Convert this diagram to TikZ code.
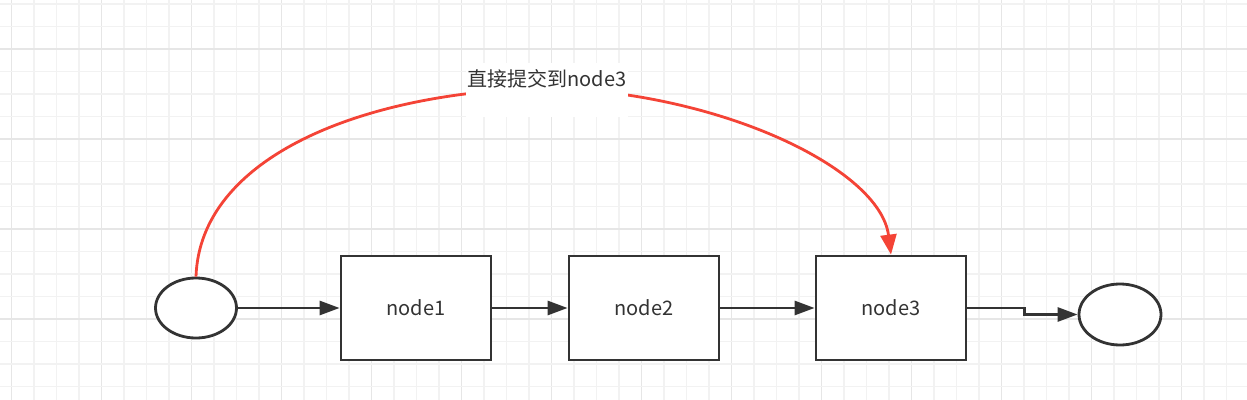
\documentclass[tikz,border=0pt]{standalone}
\usepackage{fontspec}
\setmainfont{Noto Sans CJK SC}
\usetikzlibrary{arrows.meta,shapes.geometric,calc}
\definecolor{ink}{HTML}{333333}
\definecolor{redline}{HTML}{F44336}
\definecolor{gridminor}{HTML}{F2F2F2}
\definecolor{gridmajor}{HTML}{E6E6E6}
\tikzset{
  box/.style={draw=ink, line width=2.1pt, fill=white, minimum width=112.5pt, minimum height=78pt, inner sep=0pt, font=\fontsize{15}{18}\selectfont, text=ink},
  oval/.style={ellipse, draw=ink, line width=2.1pt, fill=white, inner sep=0pt},
  flow/.style={draw=ink, line width=2.1pt, -{Triangle[length=15pt,width=10.5pt]}},
  redflow/.style={draw=redline, line width=2.1pt, -{Triangle[length=15pt,width=12pt]}},
  lbltext/.style={font=\fontsize{15}{18}\selectfont, text=ink, inner sep=0pt},
}
\begin{document}
\begin{tikzpicture}[x=0.75pt,y=-0.75pt]
\useasboundingbox (0,0) rectangle (1247,400);
\fill[white] (0,0) rectangle (1247,400);
% grid
\foreach \i in {0,...,56}{
  \pgfmathsetmacro{\gx}{-10.8+22.5*\i}
  \pgfmathtruncatemacro{\m}{mod(\i,4)}
  \ifnum\m=1
    \draw[gridmajor, line width=1.1pt] (\gx,0) -- (\gx,400);
  \else
    \draw[gridminor, line width=1.1pt] (\gx,0) -- (\gx,400);
  \fi
}
\foreach \j in {0,...,18}{
  \pgfmathsetmacro{\gy}{4+22.5*\j}
  \pgfmathtruncatemacro{\m}{mod(\j,4)}
  \ifnum\m=2
    \draw[gridmajor, line width=1.1pt] (0,\gy) -- (1247,\gy);
  \else
    \draw[gridminor, line width=1.1pt] (0,\gy) -- (1247,\gy);
  \fi
}
% nodes
\node[oval, minimum width=60.75pt, minimum height=45pt] (e1) at (196,308) {};
\node[box] (n1) at (416,308) {node1};
\node[box] (n2) at (644,308) {node2};
\node[box] (n3) at (891,308) {node3};
\node[oval, minimum width=61.5pt, minimum height=45.75pt] (e2) at (1120,314.5) {};
\coordinate (m) at (547,88);
% connectors
\draw[flow] (e1.east) -- (n1.west);
\draw[flow] (n1.east) -- (n2.west);
\draw[flow] (n2.east) -- (n3.west);
\draw[flow] (n3.east) -- ++(57,0) |- (e2.west);
\draw[redflow] (e1.north) .. controls +(4,-118.5) and +(-187,4) .. (m)
  .. controls +(173,4) and +(-11,-86) .. (n3.north);
% label
\node[fill=white, minimum width=121.5pt, minimum height=40.5pt, inner sep=0pt] (lblbox) at (547,90) {};
\node[lbltext] (lbl) at (547,79) {直接提交到node3};
\end{tikzpicture}
\end{document}
